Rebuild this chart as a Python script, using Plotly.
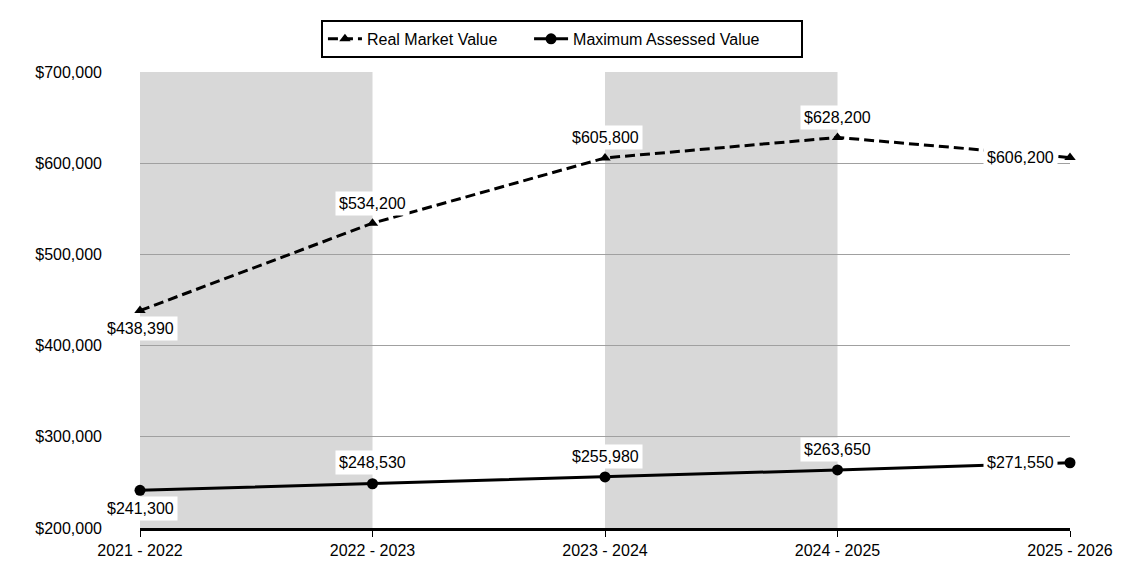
import plotly.graph_objects as go

years = ["2021 - 2022", "2022 - 2023", "2023 - 2024", "2024 - 2025", "2025 - 2026"]
real_market = [438390, 534200, 605800, 628200, 606200]
max_assessed = [241300, 248530, 255980, 263650, 271550]
y_ticks = [200000, 300000, 400000, 500000, 600000, 700000]

# label placement: (dx, dy) offsets in px (dy positive = up)
rmv_offsets = [(0, -18), (0, 20), (0, 20), (0, 20), (-50, 0)]
mav_offsets = [(0, -18), (0, 21), (0, 20), (0, 20), (-50, 0)]

FONT = "Liberation Sans, Arial, sans-serif"
NB = "\u00a0"

fig = go.Figure()
fig.add_trace(go.Scatter(
    x=years, y=real_market, name="Real Market Value" + NB * 6, mode="lines+markers",
    line=dict(color="black", width=3, dash="10px,5px"),
    marker=dict(symbol="triangle-up", size=10, color="black"),
    cliponaxis=False,
))
fig.add_trace(go.Scatter(
    x=years, y=max_assessed, name="Maximum Assessed Value" + NB * 8, mode="lines+markers",
    line=dict(color="black", width=3),
    marker=dict(symbol="circle", size=11, color="black"),
    cliponaxis=False,
))

shapes = []
for x0, x1 in [(0, 1), (2, 3)]:
    shapes.append(dict(type="rect", xref="x", yref="paper", x0=x0, x1=x1, y0=0, y1=1,
                       fillcolor="#d8d8d8", line=dict(width=0), layer="below"))
fig.update_layout(shapes=shapes)

annotations = []
for series, offs in [(real_market, rmv_offsets), (max_assessed, mav_offsets)]:
    for i, (v, (dx, dy)) in enumerate(zip(series, offs)):
        annotations.append(dict(
            x=years[i], y=v, xref="x", yref="y", text=f"${v:,}", showarrow=False,
            xshift=dx, yshift=dy, bgcolor="white", borderpad=3,
            font=dict(family=FONT, size=16, color="black"),
        ))
fig.update_layout(annotations=annotations)

fig.update_layout(
    width=1125, height=570,
    margin=dict(l=132, r=63, t=64, b=50, autoexpand=False),
    paper_bgcolor="white", plot_bgcolor="white",
    font=dict(family=FONT, size=16, color="black"),
    showlegend=True,
    legend=dict(
        orientation="h", xref="container", yref="container",
        x=0.4924, xanchor="center", y=0.979, yanchor="top",
        bordercolor="black", borderwidth=2, bgcolor="white",
        font=dict(family=FONT, size=16, color="black"),
        itemwidth=34,
    ),
    xaxis=dict(
        type="category", range=[0, 4], showgrid=False,
        showline=True, linecolor="black", linewidth=3,
        ticks="outside", ticklen=6, tickcolor="black", tickwidth=1,
        tickfont=dict(family=FONT, size=16, color="black"),
    ),
    yaxis=dict(
        range=[200000, 700000], tickvals=y_ticks,
        ticktext=[f"${t:,}" for t in y_ticks],
        showgrid=True, gridcolor="#a0a0a0", gridwidth=1,
        zeroline=False, showline=False, ticks="", ticklabelstandoff=37,
        tickfont=dict(family=FONT, size=16, color="black"),
    ),
)

fig.write_html("out.html")
